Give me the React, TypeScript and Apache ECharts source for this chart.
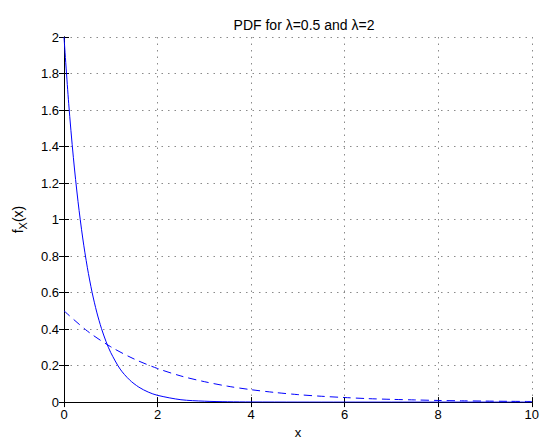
import React, { useEffect, useRef } from "react";
import * as echarts from "echarts";

const titleText = "PDF for λ=0.5 and λ=2";
const xTicks = [0, 2, 4, 6, 8, 10];
const yTicks = [0, 0.2, 0.4, 0.6, 0.8, 1, 1.2, 1.4, 1.6, 1.8, 2];

// λ = 2 (solid)
const xSolid = [0, 0.1, 0.2, 0.3, 0.4, 0.5, 0.6, 0.7, 0.8, 0.9, 1.0, 1.2, 1.4, 1.6, 1.8, 2.0, 2.5, 3.0, 3.5, 4, 5, 6, 7, 8, 9, 10];
const ySolid = [2.0, 1.637, 1.341, 1.098, 0.899, 0.736, 0.602, 0.493, 0.404, 0.331, 0.271, 0.181, 0.122, 0.082, 0.055, 0.037, 0.013, 0.005, 0.0018, 0.0007, 0.0001, 0, 0, 0, 0, 0];

// λ = 0.5 (dashed)
const xDashed = [0, 0.5, 1, 1.5, 2, 2.5, 3, 3.5, 4, 4.5, 5, 5.5, 6, 6.5, 7, 7.5, 8, 8.5, 9, 9.5, 10];
const yDashed = [0.5, 0.389, 0.303, 0.236, 0.184, 0.143, 0.112, 0.087, 0.068, 0.053, 0.041, 0.032, 0.025, 0.019, 0.015, 0.012, 0.009, 0.007, 0.0056, 0.0043, 0.0034];

const FONT = "Liberation Sans, Arial, Helvetica, sans-serif";

export default function App() {
  const ref = useRef<HTMLDivElement>(null);
  useEffect(() => {
    document.body.style.margin = "0";
    const chart = echarts.init(ref.current!, undefined, { renderer: "svg" });
    const gridLine = { show: true, lineStyle: { color: "#8a8a8a", width: 1, type: [1.5, 5] as any } };
    const axisLineStyle = { show: true, lineStyle: { color: "#000", width: 1 } };
    chart.setOption({
      animation: false,
      backgroundColor: "#fff",
      textStyle: { fontFamily: FONT },
      title: {
        text: titleText,
        left: 299,
        top: 13,
        textAlign: "center",
        textStyle: { fontFamily: FONT, fontSize: 14, fontWeight: "normal", color: "#000" },
      },
      grid: { left: 64, right: 7, top: 37, bottom: 36 },
      xAxis: [
        {
          type: "value",
          min: 0,
          max: 10,
          interval: 2,
          name: "x",
          nameLocation: "middle",
          nameGap: 21,
          nameTextStyle: { fontFamily: FONT, fontSize: 13, color: "#000" },
          axisLine: axisLineStyle,
          axisTick: { show: true, inside: true, length: 5, lineStyle: { color: "#000" } },
          axisLabel: { show: true, margin: 6, fontFamily: FONT, fontSize: 13, color: "#000" },
          splitLine: gridLine,
        },
        {
          type: "value",
          position: "top",
          min: 0,
          max: 10,
          interval: 2,
          axisLine: axisLineStyle,
          axisTick: { show: true, inside: true, length: 5, lineStyle: { color: "#000" } },
          axisLabel: { show: false },
          splitLine: { show: false },
        },
      ],
      yAxis: [
        {
          type: "value",
          min: 0,
          max: 2,
          interval: 0.2,
          name: "f{s|X}(x)",
          nameLocation: "middle",
          nameGap: 36,
          nameRotate: 90,
          nameTextStyle: {
            fontFamily: FONT,
            fontSize: 14,
            color: "#000",
            lineHeight: 20,
            rich: {
              s: { fontFamily: FONT, fontSize: 11, color: "#000", lineHeight: 10, verticalAlign: "bottom" },
            },
          },
          axisLine: axisLineStyle,
          axisTick: { show: true, inside: true, length: 5, lineStyle: { color: "#000" } },
          axisLabel: {
            show: true,
            margin: 5,
            fontFamily: FONT,
            fontSize: 13,
            color: "#000",
            formatter: (v: number) => String(Math.round(v * 10) / 10),
          },
          splitLine: gridLine,
        },
        {
          type: "value",
          position: "right",
          min: 0,
          max: 2,
          interval: 0.2,
          axisLine: axisLineStyle,
          axisTick: { show: true, inside: true, length: 5, lineStyle: { color: "#000" } },
          axisLabel: { show: false },
          splitLine: { show: false },
        },
      ],
      series: [
        {
          type: "line",
          data: xSolid.map((x, i) => [x, ySolid[i]]),
          showSymbol: false,
          smooth: 0.3,
          lineStyle: { color: "#0000ff", width: 1 },
          xAxisIndex: 0,
          yAxisIndex: 0,
        },
        {
          type: "line",
          data: xDashed.map((x, i) => [x, yDashed[i]]),
          showSymbol: false,
          smooth: 0.3,
          lineStyle: { color: "#0000ff", width: 1, type: [8, 5] as any },
          xAxisIndex: 0,
          yAxisIndex: 0,
        },
      ],
    });
    return () => chart.dispose();
  }, []);
  return <div ref={ref} style={{ width: 542, height: 444, position: "absolute", left: 0, top: 0 }} />;
}
